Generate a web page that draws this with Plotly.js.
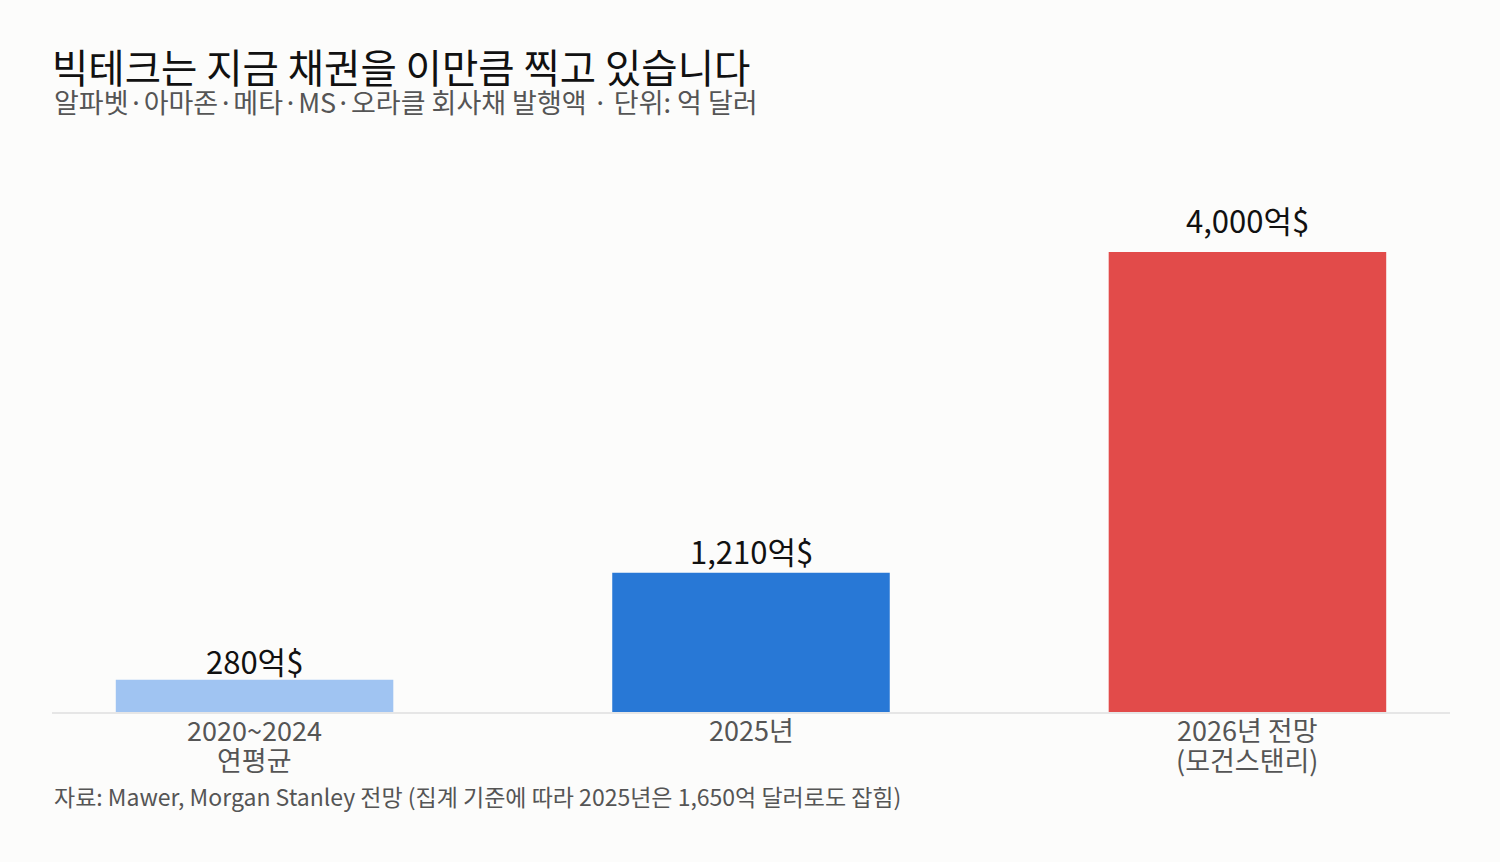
<!DOCTYPE html>
<html>
<head>
<meta charset="utf-8">
<script src="https://cdn.plot.ly/plotly-3.0.1.min.js"></script>
<style>
  html, body { margin: 0; padding: 0; background: #fcfcfb; }
  #chart { width: 1500px; height: 862px; }
</style>
</head>
<body>
<div id="chart"></div>
<script>
// categories and values (억 달러)
var categories = ["2020~2024 연평균", "2025년", "2026년 전망 (모건스탠리)"];
var tickLines = [["2020~2024", "연평균"], ["2025년"], ["2026년 전망", "(모건스탠리)"]];
var values = [280, 1210, 4000];
var labels = ["280억$", "1,210억$", "4,000억$"];
var barColors = ["#a0c4f2", "#2878d6", "#e24b4a"];

var font = "Noto Sans CJK KR, Noto Sans, sans-serif";

var data = [
  {
    type: "bar",
    x: categories,
    y: values,
    marker: { color: barColors },
    hoverinfo: "none",
  },
];

var annotations = [
  {
    text: "알파벳·아마존·메타·MS·오라클 회사채 발행액 · 단위: 억 달러",
    xref: "paper",
    yref: "paper",
    x: 0,
    y: 1,
    xanchor: "left",
    yanchor: "middle",
    yshift: 59,
    showarrow: false,
    font: { size: 27, color: "#555", family: font },
  },
  {
    text: "자료: Mawer, Morgan Stanley 전망 (집계 기준에 따라 2025년은 1,650억 달러로도 잡힘)",
    xref: "paper",
    yref: "paper",
    x: 0,
    y: 0,
    xanchor: "left",
    yanchor: "middle",
    yshift: -84,
    showarrow: false,
    font: { size: 23, color: "#555", family: font },
  },
];

// value labels above bars
for (var i = 0; i < values.length; i++) {
  annotations.push({
    text: labels[i],
    x: categories[i],
    y: values[i] * 1.03 + 150,
    xref: "x",
    yref: "y",
    xanchor: "center",
    yanchor: "middle",
    yshift: 1,
    showarrow: false,
    font: { size: 31, color: "#111", family: font },
  });
}

// category labels under axis (tight line spacing)
for (var j = 0; j < tickLines.length; j++) {
  for (var k = 0; k < tickLines[j].length; k++) {
    annotations.push({
      text: tickLines[j][k],
      x: categories[j],
      y: 0,
      xref: "x",
      yref: "y",
      xanchor: "center",
      yanchor: "middle",
      yshift: -17 - 30 * k,
      showarrow: false,
      font: { size: 27, color: "#555", family: font },
    });
  }
}

var layout = {
  width: 1500,
  height: 862,
  paper_bgcolor: "#fcfcfb",
  plot_bgcolor: "#fcfcfb",
  font: { family: font },
  margin: { l: 52, r: 50, t: 160, b: 150 },
  bargap: 0.441,
  showlegend: false,
  title: {
    text: "빅테크는 지금 채권을 이만큼 찍고 있습니다",
    font: { size: 39.5, color: "#111", family: font },
    x: 0,
    xref: "paper",
    xanchor: "left",
    y: 0.92,
    yanchor: "middle",
  },
  xaxis: {
    range: [-0.408, 2.408],
    showgrid: false,
    showline: true,
    linecolor: "#e6e6e6",
    linewidth: 2,
    ticks: "",
    showticklabels: false,
  },
  yaxis: {
    range: [0, 4800],
    visible: false,
    showgrid: false,
    zeroline: false,
  },
  annotations: annotations,
};

Plotly.newPlot("chart", data, layout, { displayModeBar: false, staticPlot: true });
</script>
</body>
</html>
